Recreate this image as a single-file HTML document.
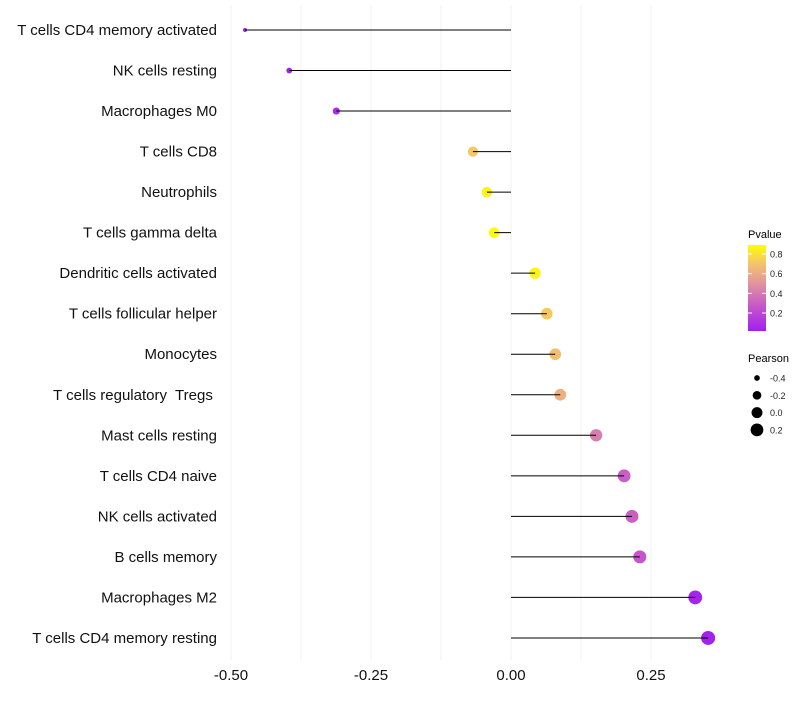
<!DOCTYPE html>
<html><head><meta charset="utf-8"><style>
body{margin:0;background:#fff;font-family:"Liberation Sans",sans-serif}
</style></head><body>
<svg id="chart" width="800" height="700" xmlns="http://www.w3.org/2000/svg" font-family="Liberation Sans, sans-serif">
<g id="grid"></g>
<g id="marks"></g>
<g id="ylabels"></g>
<g id="xlabels"></g>
<g>
<defs><linearGradient id="pg" x1="0" y1="1" x2="0" y2="0">
<stop offset="0" stop-color="#a020f0"/><stop offset="0.3" stop-color="#c759c8"/><stop offset="0.55" stop-color="#e2939f"/><stop offset="0.8" stop-color="#f5c768"/><stop offset="1" stop-color="#ffff00"/></linearGradient></defs>
<text x="748" y="238" font-size="11">Pvalue</text>
<rect x="748" y="245" width="18" height="86" fill="url(#pg)"/>
<g id="cticks"></g>
</g>
<g>
<text x="748" y="362" font-size="11">Pearson</text>
<g id="sizeleg"></g>
</g>
</svg>
<script>
const categories=["T cells CD4 memory activated","NK cells resting","Macrophages M0","T cells CD8","Neutrophils","T cells gamma delta","Dendritic cells activated","T cells follicular helper","Monocytes","T cells regulatory  Tregs ","Mast cells resting","T cells CD4 naive","NK cells activated","B cells memory","Macrophages M2","T cells CD4 memory resting"];
const pearson=[-0.475,-0.396,-0.312,-0.068,-0.043,-0.030,0.043,0.064,0.079,0.088,0.152,0.202,0.216,0.230,0.329,0.352];
const pvalues=[0.005,0.03,0.08,0.72,0.85,0.88,0.85,0.72,0.68,0.62,0.42,0.3,0.3,0.26,0.04,0.03];
const xTicks=[-0.5,-0.25,0,0.25];
const xTickLabels=["-0.50","-0.25","0.00","0.25"];
const cTicks=[0.8,0.6,0.4,0.2];
const sizeTicks=[-0.4,-0.2,0,0.2];
const sizeTickLabels=["-0.4","-0.2","0.0","0.2"];
const NS="http://www.w3.org/2000/svg";
const x=v=>511+v*560;
const y=i=>30+i*40.53;
const r=v=>Math.sqrt(Math.max(1,29.9+54.5*v));
const cy=p=>313-(p-0.2)*98.3;
const stops=[[0,[160,32,240]],[0.3,[199,89,200]],[0.55,[226,147,159]],[0.8,[245,199,104]],[1,[255,255,0]]];
function col(p){const t=Math.min(1,Math.max(0,(cy(p)-331)/(245-331)));
for(let k=1;k<stops.length;k++){if(t<=stops[k][0]){const a=stops[k-1],b=stops[k];const f=(t-a[0])/(b[0]-a[0]);
return "rgb("+a[1].map((c,j)=>Math.round(c+(b[1][j]-c)*f)).join(",")+")";}}return "rgb(255,255,0)";}
function mk(tag,at,parent){const e=document.createElementNS(NS,tag);for(const k in at)e.setAttribute(k,at[k]);parent.appendChild(e);return e;}
const grid=document.getElementById('grid'),marks=document.getElementById('marks'),yl=document.getElementById('ylabels'),xl=document.getElementById('xlabels');
[-0.5,-0.375,-0.25,-0.125,0,0.125,0.25].forEach(v=>{const l=mk('line',{x1:x(v),x2:x(v),y1:5,y2:660,stroke:'#f0f0f0','stroke-width':1},grid);

});
categories.forEach((c,i)=>{
const pt=mk('circle',{cx:x(pearson[i]),cy:y(i),r:r(pearson[i]),fill:col(pvalues[i])},marks);


const ln=mk('line',{x1:x(0),x2:x(pearson[i]),y1:y(i),y2:y(i),stroke:'#000','stroke-width':1},marks);


const t=mk('text',{x:217,y:y(i)+5,'text-anchor':'end','font-size':15,fill:'#111'},yl);t.textContent=c;t.setAttribute('style','white-space:pre');

});
xTicks.forEach((v,i)=>{const t=mk('text',{x:x(v),y:680,'text-anchor':'middle','font-size':15,fill:'#111'},xl);t.textContent=xTickLabels[i];

});
const ct=document.getElementById('cticks');
cTicks.forEach(p=>{mk('line',{x1:748,x2:752,y1:cy(p),y2:cy(p),stroke:'#fff'},ct);mk('line',{x1:762,x2:766,y1:cy(p),y2:cy(p),stroke:'#fff'},ct);
const t=mk('text',{x:770,y:cy(p)+3.5,'font-size':9,fill:'#222'},ct);t.textContent=p.toFixed(1);

});
const sl=document.getElementById('sizeleg');
sizeTicks.forEach((v,i)=>{const yy=378+i*17.3;const c=mk('circle',{cx:757,cy:yy,r:r(v),fill:'#000'},sl);


const t=mk('text',{x:770,y:yy+3.5,'font-size':9,fill:'#222'},sl);t.textContent=sizeTickLabels[i];

});
</script>
</body></html>
